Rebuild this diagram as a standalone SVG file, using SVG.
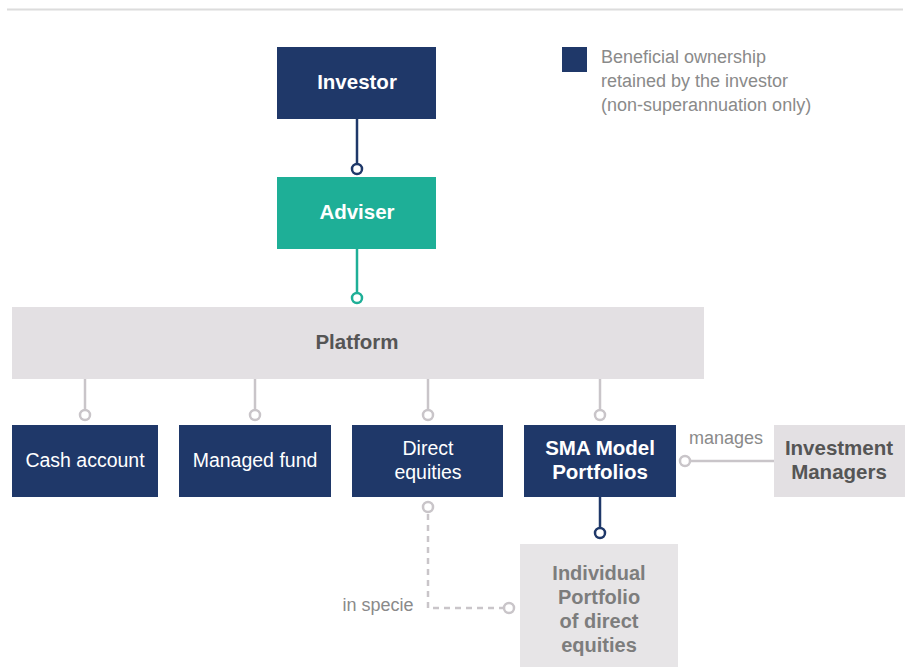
<svg xmlns="http://www.w3.org/2000/svg" width="909" height="667" viewBox="0 0 909 667">
<style>
text{font-family:"Liberation Sans",Arial,sans-serif;text-anchor:middle}
.navy{fill:#1f3869}
.teal{fill:#1eaf97}
.grey{fill:#e3e0e3}
.lt{fill:#e7e5e7}
.w{fill:#fff;font-size:19.5px}
.wb{fill:#fff;font-size:20.5px;font-weight:bold}
.gb{fill:#555;font-size:20.5px;font-weight:bold}
.lb{fill:#7d7d7d;font-size:20px;font-weight:bold}
.lab{fill:#8a8a8a;font-size:18px}
.cg{stroke:#c9c5c9;stroke-width:2.5;fill:none}
.cn{stroke:#1f3869;stroke-width:2.5;fill:none}
.ct{stroke:#1eaf97;stroke-width:2.5;fill:none}
.dot{fill:#fff;stroke-width:2.5}
</style>
<rect width="909" height="667" fill="#fff"/>
<line x1="7" y1="9.5" x2="903" y2="9.5" stroke="#dcdcdc" stroke-width="2"/>
<g id="legend">
<rect x="562" y="47" width="25" height="25" class="navy"/>
<text x="601" y="63" class="lab" style="text-anchor:start">Beneficial ownership</text>
<text x="601" y="87" class="lab" style="text-anchor:start">retained by the investor</text>
<text x="601" y="111" class="lab" style="text-anchor:start">(non-superannuation only)</text>
</g>
<g id="connectors">
<line x1="357" y1="119" x2="357" y2="164" class="cn"/>
<circle cx="357" cy="169" r="5" class="dot" stroke="#1f3869"/>
<line x1="357" y1="249" x2="357" y2="293" class="ct"/>
<circle cx="357" cy="298" r="5" class="dot" stroke="#1eaf97"/>
<line x1="85" y1="379" x2="85" y2="410" class="cg"/>
<circle cx="85" cy="415" r="5" class="dot" stroke="#c9c5c9"/>
<line x1="255" y1="379" x2="255" y2="410" class="cg"/>
<circle cx="255" cy="415" r="5" class="dot" stroke="#c9c5c9"/>
<line x1="428" y1="379" x2="428" y2="410" class="cg"/>
<circle cx="428" cy="415" r="5" class="dot" stroke="#c9c5c9"/>
<line x1="600" y1="379" x2="600" y2="410" class="cg"/>
<circle cx="600" cy="415" r="5" class="dot" stroke="#c9c5c9"/>
<line x1="690" y1="461" x2="774" y2="461" class="cg"/>
<circle cx="685" cy="461" r="5" class="dot" stroke="#c9c5c9"/>
<text x="726" y="444" class="lab">manages</text>
<line x1="600" y1="497" x2="600" y2="528" class="cn"/>
<circle cx="600" cy="533" r="5" class="dot" stroke="#1f3869"/>
<circle cx="428" cy="507" r="5" class="dot" stroke="#c9c5c9"/>
<path d="M428 514 V608 H503" class="cg" stroke-dasharray="6 5"/>
<circle cx="509" cy="608" r="5" class="dot" stroke="#c9c5c9"/>
<text x="378" y="611" class="lab">in specie</text>
</g>
<g id="investor">
<rect x="277" y="47" width="159" height="72" class="navy"/>
<text x="357" y="89" class="wb">Investor</text>
</g>
<g id="adviser">
<rect x="277" y="177" width="159" height="72" class="teal"/>
<text x="357" y="219" class="wb">Adviser</text>
</g>
<g id="platform">
<rect x="12" y="307" width="692" height="72" class="grey"/>
<text x="357" y="349" class="gb">Platform</text>
</g>
<g id="cash">
<rect x="12" y="425" width="146" height="72" class="navy"/>
<text x="85" y="467" class="w">Cash account</text>
</g>
<g id="managed">
<rect x="179" y="425" width="152" height="72" class="navy"/>
<text x="255" y="467" class="w">Managed fund</text>
</g>
<g id="direct">
<rect x="352" y="425" width="151" height="72" class="navy"/>
<text x="428" y="455" class="w">Direct</text>
<text x="428" y="479" class="w">equities</text>
</g>
<g id="sma">
<rect x="524" y="425" width="152" height="72" class="navy"/>
<text x="600" y="455" class="wb">SMA Model</text>
<text x="600" y="479" class="wb">Portfolios</text>
</g>
<g id="invmgr">
<rect x="774" y="425" width="131" height="72" class="grey"/>
<text x="839" y="455" class="gb">Investment</text>
<text x="839" y="479" class="gb">Managers</text>
</g>
<g id="individual">
<rect x="520" y="544" width="158" height="123" class="lt"/>
<text x="599" y="580" class="lb">Individual</text>
<text x="599" y="604" class="lb">Portfolio</text>
<text x="599" y="628" class="lb">of direct</text>
<text x="599" y="652" class="lb">equities</text>
</g>
</svg>
